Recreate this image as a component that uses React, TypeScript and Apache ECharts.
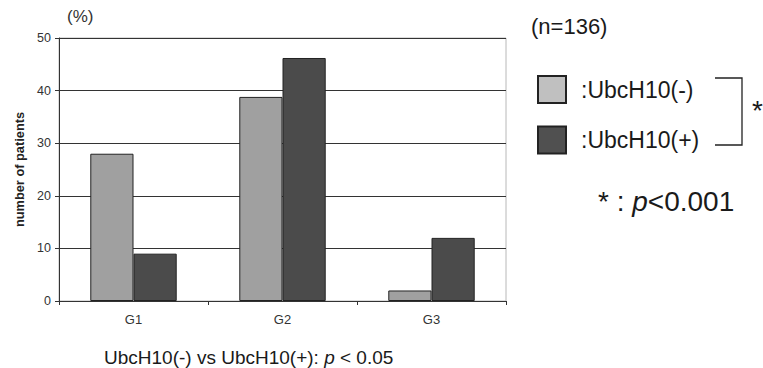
import React, { useEffect, useRef } from "react";
import * as echarts from "echarts";

const categories = ["G1", "G2", "G3"];
const negValues = [28, 38.8, 2];
const posValues = [9, 46.2, 12];
const yTicks = { min: 0, max: 50, interval: 10 };
const seriesNames = ["UbcH10(-)", "UbcH10(+)"];

export default function App() {
  const ref = useRef<HTMLDivElement>(null);
  useEffect(() => {
    const chart = echarts.init(ref.current!, null, { renderer: "svg" });
    const font = "Liberation Sans, Arial, sans-serif";
    chart.setOption({
      animation: false,
      textStyle: { fontFamily: font },
      grid: {
        left: 59,
        right: 257,
        top: 38,
        bottom: 67,
        show: true,
        borderColor: "#b8b8b8",
        borderWidth: 1,
      },
      legend: {
        orient: "vertical",
        left: 537,
        top: 75,
        padding: 0,
        itemWidth: 28,
        itemHeight: 27,
        itemGap: 21.5,
        icon: "rect",
        formatter: (n: string) => ":" + n,
        textStyle: { fontSize: 23, color: "#1a1a1a", fontFamily: font, padding: [0, 0, 0, 10] },
        data: [
          { name: seriesNames[0], itemStyle: { color: "#c0c0c0", borderColor: "#222", borderWidth: 2 } },
          { name: seriesNames[1], itemStyle: { color: "#505050", borderColor: "#222", borderWidth: 2 } },
        ],
      },
      xAxis: {
        type: "category",
        data: categories,
        axisLine: { lineStyle: { color: "#333", width: 1 } },
        axisTick: { show: true, length: 4, lineStyle: { color: "#333" } },
        axisLabel: { fontSize: 13, color: "#333", margin: 12, fontFamily: font },
      },
      yAxis: {
        type: "value",
        min: yTicks.min,
        max: yTicks.max,
        interval: yTicks.interval,
        name: "number of patients",
        nameLocation: "middle",
        nameGap: 33,
        nameTextStyle: { fontSize: 12.8, fontWeight: "bold", color: "#222", fontFamily: font },
        axisLine: { show: true, lineStyle: { color: "#333", width: 1 } },
        axisTick: { show: true, length: 4, lineStyle: { color: "#333" } },
        axisLabel: { fontSize: 12.5, color: "#333", margin: 8, fontFamily: font },
        splitLine: { lineStyle: { color: "#333", width: 1 } },
      },
      series: [
        {
          name: seriesNames[0],
          type: "bar",
          data: negValues,
          barGap: "0%",
          barCategoryGap: "42%",
          itemStyle: { color: "#a0a0a0", borderColor: "#222", borderWidth: 1 },
        },
        {
          name: seriesNames[1],
          type: "bar",
          data: posValues,
          barGap: "0%",
          barCategoryGap: "42%",
          itemStyle: { color: "#4b4b4b", borderColor: "#222", borderWidth: 1 },
        },
      ],
      graphic: [
        { type: "text", left: 67, top: 8, style: { text: "(%)", fontSize: 17, fill: "#333", fontFamily: font } },
        { type: "text", left: 531, top: 15, style: { text: "(n=136)", fontSize: 22, fill: "#1a1a1a", fontFamily: font } },
        {
          type: "polyline",
          shape: { points: [[715, 78], [742, 78], [742, 145], [715, 145]] },
          style: { stroke: "#222", lineWidth: 1.3, fill: null },
        },
        { type: "text", left: 752, top: 96, style: { text: "*", fontSize: 28, fill: "#1a1a1a", fontFamily: font } },
        {
          type: "text",
          left: 598,
          top: 187,
          style: {
            text: "{a|* : }{b|p}{a|<0.001}",
            rich: {
              a: { fontSize: 28, fill: "#1a1a1a", fontFamily: font },
              b: { fontSize: 28, fill: "#1a1a1a", fontFamily: font, fontStyle: "italic" },
            },
          },
        },
        {
          type: "text",
          left: 104,
          top: 348,
          style: {
            text: "{a|UbcH10(-) vs UbcH10(+): }{b|p}{a| < 0.05}",
            rich: {
              a: { fontSize: 19, fill: "#1a1a1a", fontFamily: font },
              b: { fontSize: 19, fill: "#1a1a1a", fontFamily: font, fontStyle: "italic" },
            },
          },
        },
      ],
    });
    return () => chart.dispose();
  }, []);
  return <div ref={ref} style={{ width: 763, height: 368, position: "absolute", left: 0, top: 0 }} />;
}
